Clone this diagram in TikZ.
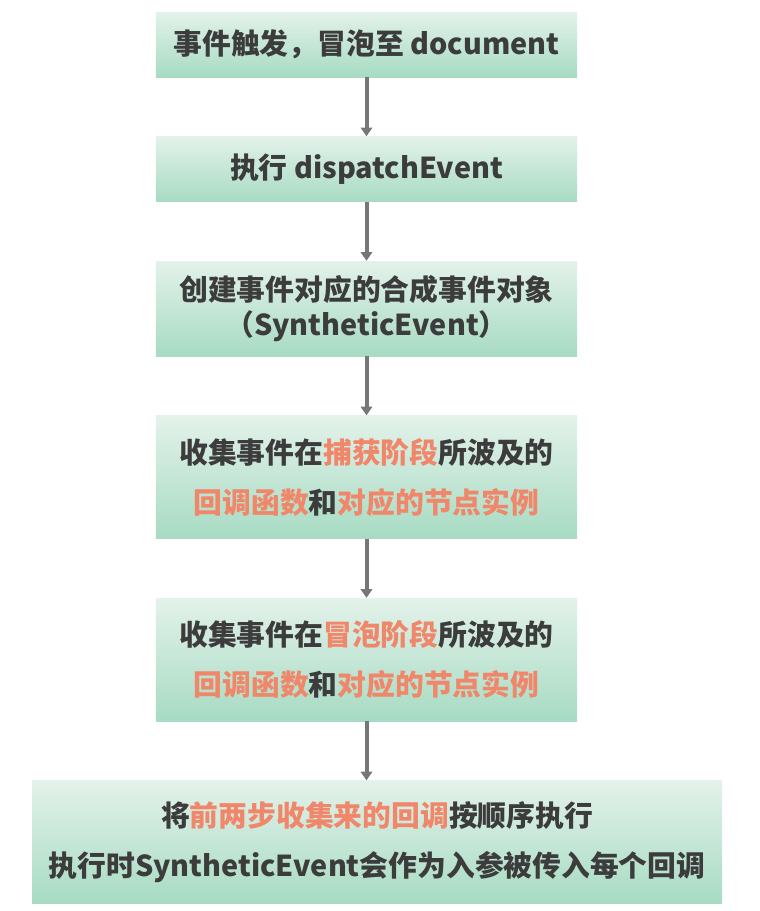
\documentclass[tikz,border=0pt]{standalone}
\usepackage{fontspec}
\setmainfont{Noto Sans CJK SC}
\usepackage{xcolor}
\usepackage{tikz}
\usetikzlibrary{arrows.meta,positioning}

\definecolor{boxtop}{HTML}{E3F2EA}
\definecolor{boxbot}{HTML}{A7DBC3}
\definecolor{txtdark}{HTML}{3C3C3C}
\definecolor{hilite}{HTML}{F0876A}
\definecolor{arrgray}{HTML}{777777}
\newcommand{\hlt}[1]{\textcolor{hilite}{#1}}

\begin{document}
\begin{tikzpicture}[
    node distance=44.25pt,
    every node/.style={font=\fontsize{21.6}{26.5}\selectfont\bfseries, text=txtdark},
    stepbox/.style={top color=boxtop, bottom color=boxbot, draw=none,
                    minimum width=316pt, minimum height=#1, inner sep=0pt, align=center},
    stepbox/.default=48.75pt,
    arr/.style={-{Triangle[width=8.5pt,length=6.5pt]}, line width=3pt, draw=arrgray},
  ]
    % --- bounding box ---
    \useasboundingbox (-274.9pt,33.4pt) rectangle (294.4pt,-649.9pt);

    % --- Steps ---
    \node[stepbox]                      (bubble)   {事件触发，冒泡至 document};
    \node[stepbox, below=of bubble]     (dispatch) {执行 dispatchEvent};
    \node[stepbox=71.25pt, below=of dispatch] (synth)
         {创建事件对应的合成事件对象\\（SyntheticEvent）};
    \node[stepbox=92.25pt, below=of synth]    (capture)
         {收集事件在\hlt{捕获阶段}所波及的\\[11pt]\hlt{回调函数}和\hlt{对应的节点实例}};
    \node[stepbox=92.25pt, below=of capture]  (bubbling)
         {收集事件在\hlt{冒泡阶段}所波及的\\[11pt]\hlt{回调函数}和\hlt{对应的节点实例}};
    \node[stepbox=92.25pt, minimum width=517.5pt, below=of bubbling, xshift=7.9pt] (exec)
         {将\hlt{前两步收集来的回调}按顺序执行\\[11pt]执行时SyntheticEvent会作为入参被传入每个回调};

    % --- Arrows ---
    \draw[arr] (bubble)   -- (dispatch);
    \draw[arr] (dispatch) -- (synth);
    \draw[arr] (synth)    -- (capture);
    \draw[arr] (capture)  -- (bubbling);
    \draw[arr] (bubbling.south) -- (bubbling.south |- exec.north);
  \end{tikzpicture}
\end{document}
